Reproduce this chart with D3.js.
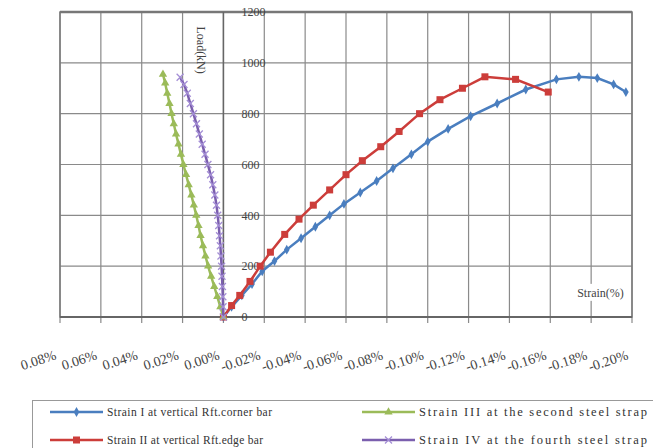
<!DOCTYPE html>
<html><head><meta charset="utf-8">
<script src="https://cdn.jsdelivr.net/npm/d3@7"></script>
<style>body{margin:0;background:#fff}svg{display:block}</style>
</head><body>
<script>
// ---- data (strain in %, load in kN) ----
const xTicks = [0.08,0.06,0.04,0.02,0.00,-0.02,-0.04,-0.06,-0.08,-0.10,-0.12,-0.14,-0.16,-0.18,-0.20];
const xTickLabels = ["0.08%","0.06%","0.04%","0.02%","0.00%","-0.02%","-0.04%","-0.06%","-0.08%","-0.10%","-0.12%","-0.14%","-0.16%","-0.18%","-0.20%"];
const yTicks = [0,200,400,600,800,1000,1200];
const seriesNames = ["Strain I at vertical Rft.corner  bar","Strain II at vertical Rft.edge  bar","Strain III at the second steel strap","Strain IV at the fourth steel strap"];

const strain1 = [0,-0.004,-0.009,-0.014,-0.019,-0.025,-0.031,-0.038,-0.045,-0.052,-0.059,-0.067,-0.075,-0.083,-0.092,-0.100,-0.110,-0.121,-0.134,-0.148,-0.163,-0.174,-0.183,-0.191,-0.197];
const load1   = [0,40,85,130,180,220,265,310,355,400,445,490,535,585,640,690,740,790,840,895,935,945,940,915,885];

const strain2 = [0,-0.004,-0.008,-0.013,-0.018,-0.023,-0.030,-0.037,-0.044,-0.052,-0.060,-0.068,-0.077,-0.086,-0.096,-0.106,-0.117,-0.128,-0.143,-0.159];
const load2   = [0,45,85,140,200,255,325,385,440,500,560,615,670,730,800,855,900,945,935,885];

const strain3 = [0,0.0015,0.003,0.0045,0.006,0.0075,0.0088,0.0100,0.0112,0.0122,0.0133,0.0145,0.0157,0.0170,0.0183,0.0196,0.0208,0.0220,0.0232,0.0243,0.0254,0.0264,0.0275,0.0285,0.0296];
const load3   = [0,40,80,120,160,200,240,280,320,360,400,440,480,520,560,600,640,680,720,760,800,840,880,920,955];

const strain4 = [0,0.0002,0.0003,0.0005,0.0007,0.0009,0.0012,0.0015,0.0019,0.0023,0.0028,0.0034,0.0042,0.0052,0.0063,0.0076,0.0090,0.0104,0.0118,0.0132,0.0147,0.0162,0.0177,0.0193,0.0212];
const load4   = [0,40,80,120,160,200,240,280,320,360,400,440,480,520,560,600,640,680,720,760,800,840,880,915,943];

const colors = ["#4a7ebf","#cc3d3a","#9bbb59","#7b5fae"];
const markers = ["diamond","square","triangle","cross"];

// ---- drawing ----
const W=653,H=448;
const svg=d3.select("body").append("svg").attr("width",W).attr("height",H);
const x=d3.scaleLinear().domain([0.08,-0.20]).range([60,632]);
const y=d3.scaleLinear().domain([0,1200]).range([317,12]);
const font="'Liberation Serif','Times New Roman',serif";

// grid
const g=svg.append("g");
g.selectAll("line.vg").data(xTicks).join("line")
 .attr("x1",d=>x(d)).attr("x2",d=>x(d)).attr("y1",y(1200)).attr("y2",y(0)+6)
 .attr("stroke","#8a8a8a").attr("stroke-width",1.2);
g.selectAll("line.hg").data(yTicks).join("line")
 .attr("x1",x(0.08)).attr("x2",x(-0.20)).attr("y1",d=>y(d)).attr("y2",d=>y(d))
 .attr("stroke","#8a8a8a").attr("stroke-width",1.2);
// border
svg.append("rect").attr("x",x(0.08)).attr("y",y(1200)).attr("width",x(-0.20)-x(0.08)).attr("height",y(0)-y(1200))
 .attr("fill","none").attr("stroke","#7a7a7a").attr("stroke-width",1.5);
svg.append("line").attr("x1",x(0.08)).attr("x2",x(-0.20)).attr("y1",y(0)).attr("y2",y(0)).attr("stroke","#666").attr("stroke-width",2);
svg.append("line").attr("x1",x(0.08)).attr("x2",x(-0.20)).attr("y1",y(1200)).attr("y2",y(1200)).attr("stroke","#777").attr("stroke-width",2.5);
svg.append("line").attr("x1",x(0)).attr("x2",x(0)).attr("y1",y(1200)).attr("y2",y(0)).attr("stroke","#666").attr("stroke-width",1.5);

// y labels
svg.selectAll("text.yl").data(yTicks).join("text")
 .attr("x",x(0)+18).attr("y",d=>y(d)).attr("dy","0.35em")
 .attr("font-family",font).attr("font-size",12).attr("fill","#444")
 .text(d=>d);
svg.append("text").attr("transform",`translate(${x(0)-22},${y(1050)}) rotate(90)`)
 .attr("text-anchor","middle").attr("dy","0.35em")
 .attr("font-family",font).attr("font-size",12).attr("fill","#444").text("Load(kN)");

// x labels
svg.selectAll("text.xl").data(xTicks).join("text")
 .attr("transform",d=>`translate(${x(d)-3},${y(0)+42}) rotate(-18)`)
 .attr("text-anchor","end")
 .attr("font-family",font).attr("font-size",14).attr("fill","#444")
 .text((d,i)=>xTickLabels[i]);

// Strain(%) label
const sl=svg.append("g").attr("transform",`translate(${x(-0.196)},${y(95)})`);
sl.append("rect").attr("x",-62).attr("y",-9).attr("width",64).attr("height",17).attr("fill","#fff");
sl.append("text").attr("text-anchor","end").attr("dy","0.35em").attr("font-family",font).attr("font-size",12).attr("fill","#444").text("Strain(%)");

// series
const allSeries=[[strain1,load1],[strain2,load2],[strain3,load3],[strain4,load4]];
const line=d3.line().x(d=>x(d[0])).y(d=>y(d[1]));
function marker(sel,type,color){
  if(type==="diamond") sel.append("path").attr("d",d3.symbol(d3.symbolDiamond,28)()).attr("fill",color);
  else if(type==="square") sel.append("rect").attr("x",-3.5).attr("y",-3.5).attr("width",7).attr("height",7).attr("fill",color);
  else if(type==="triangle") sel.append("path").attr("d",d3.symbol(d3.symbolTriangle,30)()).attr("fill",color);
  else sel.append("path").attr("d","M-3.5,-3.5L3.5,3.5M-3.5,3.5L3.5,-3.5").attr("stroke","#a58fd6").attr("stroke-width",1.3).attr("fill","none");
}
allSeries.forEach(([xs,ys],k)=>{
  const pts=xs.map((v,i)=>[v,ys[i]]);
  const sg=svg.append("g");
  sg.append("path").datum(pts).attr("d",line).attr("fill","none").attr("stroke",colors[k]).attr("stroke-width",2.5);
  sg.selectAll("g.m").data(pts).join("g").attr("transform",d=>`translate(${x(d[0])},${y(d[1])})`)
    .each(function(){marker(d3.select(this),markers[k],colors[k]);});
});

// legend
const lg=svg.append("g");
lg.append("rect").attr("x",32.5).attr("y",400.5).attr("width",640).attr("height",60).attr("fill","#fff").attr("stroke","#999");
const legPos=[[50,412],[50,440],[362,412],[362,440]];
const legLen=[165,156,228,228];
const legSize=[11.5,11.5,12.5,12.5];
seriesNames.forEach((n,k)=>{
  const [lx,ly]=legPos[k];
  const e=lg.append("g").attr("transform",`translate(${lx},${ly})`);
  e.append("line").attr("x1",0).attr("x2",53).attr("stroke",colors[k]).attr("stroke-width",2.5);
  const m=e.append("g").attr("transform","translate(26.5,0)");
  marker(m,markers[k],colors[k]);
  e.append("text").attr("x",57).attr("dy","0.35em").attr("font-family",font).attr("font-size",legSize[k])
   .attr("fill","#333").attr("textLength",legLen[k]).attr("lengthAdjust","spacing").text(n);
});
</script>
</body></html>
